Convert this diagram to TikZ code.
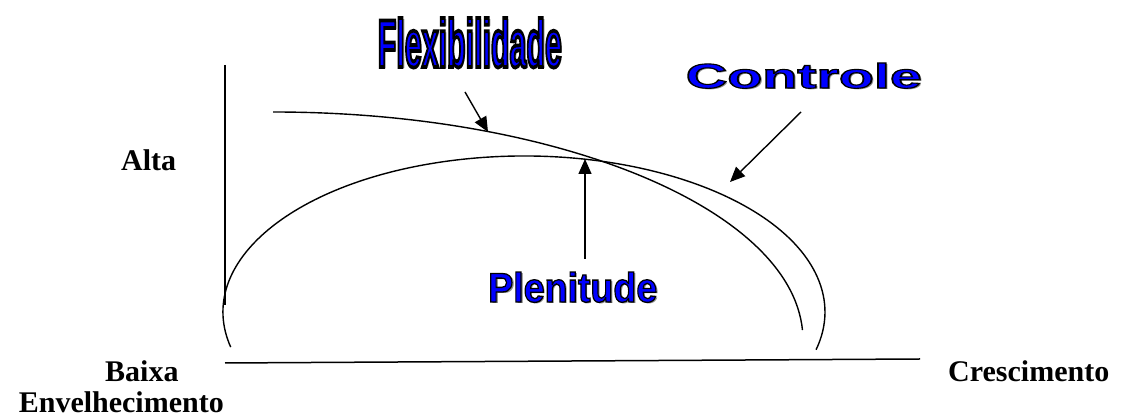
\documentclass[tikz,border=0pt]{standalone}
\usepackage{fontspec}
\setmainfont{Liberation Serif}
\newfontfamily\artfont{Liberation Sans}
\usepackage{xcolor}
\usepackage{tikz}
\usetikzlibrary{arrows.meta}
\definecolor{ArtBlue}{HTML}{0000FF}
\definecolor{ArtShade}{HTML}{8C8C8C}
\newcommand\artglyphs[4]{\resizebox{#1}{#2}{\fontsize{#3}{#3}\artfont\bfseries #4}}
\newcommand\wordart[5]{%
  \rlap{\kern1.8pt\lower1.8pt\hbox{\color{ArtShade}\artglyphs{#1}{#2}{#3}{#5}}}%
  \hbox{\color{ArtBlue}\special{pdf:literal direct 0 0 0 RG #4 w 2 Tr}%
    \artglyphs{#1}{#2}{#3}{#5}\special{pdf:literal direct 0 Tr}}}
\tikzset{
  axisline/.style={line width=1.5pt,draw=black},
  curveline/.style={line width=1.4pt,draw=black},
  callout/.style={-{Triangle[length=15pt,width=13pt]},line width=1.4pt,draw=black},
  axislabel/.style={inner sep=0pt,font=\fontsize{30}{34}\selectfont\bfseries},
  artlabel/.style={inner sep=0pt}
}

\begin{document}
\begin{tikzpicture}[x=1pt,y=1pt]
\useasboundingbox (0,0) rectangle (1121,419);
\fill[white] (0,0) rectangle (1121,419);
\node[artlabel,anchor=base east] (flex) at (562,352) {\wordart{184pt}{49pt}{40pt}{2.2}{Flexibilidade}};
\node[artlabel,anchor=base east] (ctrl) at (922,331) {\wordart{236pt}{25pt}{35pt}{1.1}{Controle}};
\node[artlabel,anchor=base west] (plen) at (488,117) {\wordart{169pt}{30pt}{42pt}{1.3}{Plenitude}};
\node[axislabel,anchor=base west] (alta) at (121,248) {Alta};
\node[axislabel,anchor=base west] (baixa) at (105,37) {Baixa};
\node[axislabel,anchor=base east] (envel) at (224,6) {Envelhecimento};
\node[axislabel,anchor=base west] (cresc) at (948,37) {Crescimento};
\coordinate (ytop) at (225,354);
\coordinate (ybot) at (225,114);
\coordinate (xleft) at (225,56);
\coordinate (xright) at (920,60);
\draw[axisline] (ytop)--(ybot);
\draw[axisline] (xleft)--(xright);
\coordinate (plenstart) at (230.7,71.9);
\coordinate (flexstart) at (273,307);
\draw[curveline] (plenstart) arc[start angle=193,end angle=-14,x radius=301pt,y radius=156pt];
\draw[curveline] (flexstart) arc[start angle=90,end angle=2.5,x radius=530pt,y radius=228pt];
\coordinate (flexfrom) at (465,327);
\coordinate (flexto) at (488,287);
\coordinate (ctrlfrom) at (801,307);
\coordinate (ctrlto) at (730,237);
\coordinate (plenfrom) at (585,160);
\coordinate (plento) at (585,260);
\draw[callout] (flexfrom)--(flexto);
\draw[callout] (ctrlfrom)--(ctrlto);
\draw[callout] (plenfrom)--(plento);
\end{tikzpicture}
\end{document}
